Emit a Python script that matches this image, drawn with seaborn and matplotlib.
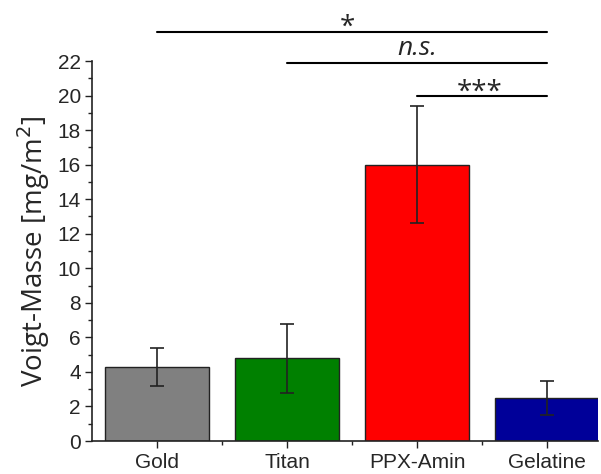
import seaborn as sns
import matplotlib.pyplot as plt
import pandas as pd

categories = ['Gold', 'Titan', 'PPX-Amin', 'Gelatine']
means = [4.3, 4.8, 16.0, 2.5]
errors = [1.1, 2.0, 3.4, 1.0]
colors = ['#808080', '#008000', '#ff0000', '#000099']
# significance brackets: (from, to, height, label)
sig_pairs = [(0, 3, 23.7, '*'), (1, 3, 21.9, 'n.s.'), (2, 3, 20.0, '***')]

df = pd.DataFrame({'Probe': categories, 'Masse': means})

sns.set_style('ticks')
plt.rcParams['font.family'] = ['Liberation Sans', 'DejaVu Sans']
plt.rcParams['font.sans-serif'] = ['Liberation Sans', 'DejaVu Sans']

fig = plt.figure(figsize=(6.01, 4.74), dpi=100)
ax = fig.add_axes([0.153, 0.0696, 0.842, 0.8017])

sns.barplot(data=df, x='Probe', y='Masse', hue='Probe', palette=colors,
            saturation=1, width=0.8, edgecolor='#222222', linewidth=1.0,
            legend=False, ax=ax)
ax.errorbar(range(len(categories)), means, yerr=errors, fmt='none',
            ecolor='#222222', elinewidth=1.2, capsize=5, capthick=1.2)

ax.set_xlim(-0.5, 3.39)
ax.set_ylim(0, 22)
ax.set_yticks(range(0, 23, 2))
ax.set_yticks(range(1, 22, 2), minor=True)
ax.set_xticks([0.5, 1.5, 2.5], minor=True)
ax.tick_params(axis='both', which='major', labelsize=15, length=5, width=1,
               color='#222222', pad=3)
ax.tick_params(axis='x', which='major', pad=3.5)
ax.tick_params(axis='both', which='minor', length=3, width=1, color='#222222')
for t in ax.get_xticklabels() + ax.get_yticklabels():
    t.set_family(['Liberation Sans', 'DejaVu Sans'])
ax.set_xlabel('')
ax.set_ylabel('Voigt-Masse [mg/m$^2$]', family=['Open Sans', 'DejaVu Sans'],
              fontsize=20, labelpad=4)
for s in ['top', 'right']:
    ax.spines[s].set_visible(False)
for s in ['left', 'bottom']:
    ax.spines[s].set_linewidth(1.2)
    ax.spines[s].set_color('#222222')

for a, b, h, lab in sig_pairs:
    ax.plot([a, b], [h, h], color='black', lw=1.5, clip_on=False)
    if lab == 'n.s.':
        ax.text(2.0, h + 0.1, lab, ha='center', va='bottom', fontsize=19,
                style='italic', family=['Open Sans', 'DejaVu Sans'])
    elif lab == '*':
        ax.text(1.46, h - 0.6, lab, ha='center', va='bottom', fontsize=20,
                family=['Open Sans', 'DejaVu Sans'])
    else:
        ax.text(2.48, h - 0.65, lab, ha='center', va='bottom', fontsize=20,
                family=['Open Sans', 'DejaVu Sans'])

fig.savefig('out.png', dpi=100)
